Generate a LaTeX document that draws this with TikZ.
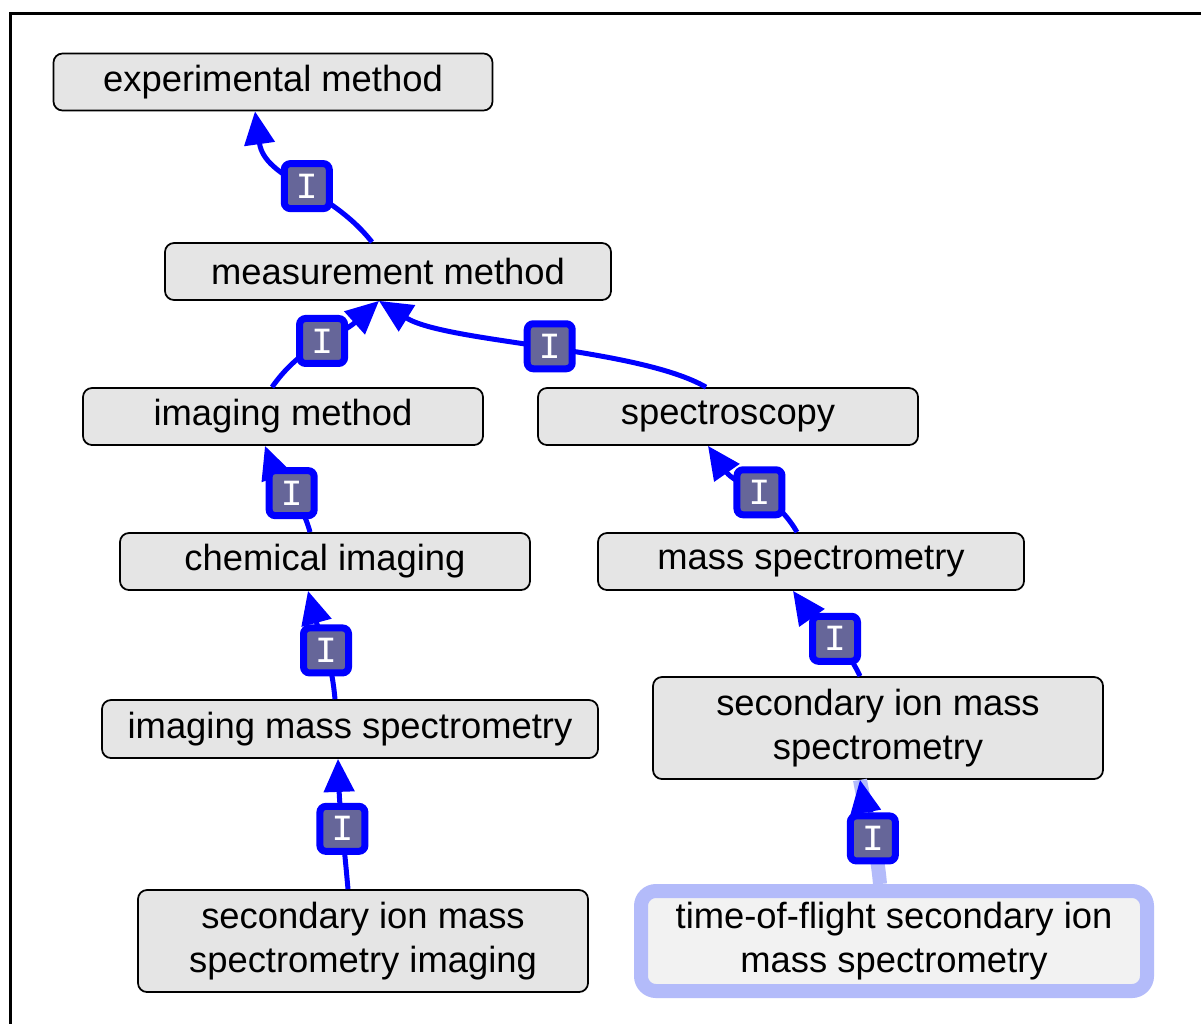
\documentclass[tikz,border=0pt]{standalone}
\usepackage{fontspec}
\setmainfont{Liberation Sans}
\newfontfamily\tagfont{Liberation Mono}
\usetikzlibrary{arrows.meta, positioning}
\definecolor{clsFill}{HTML}{E5E5E5}
\definecolor{selFill}{HTML}{F2F2F2}
\definecolor{selRing}{HTML}{B3BBFA}
\definecolor{tagFill}{HTML}{666699}

\begin{document}
\begin{tikzpicture}[
  cls/.style={draw=black, line width=0.035cm, rounded corners=0.18cm, fill=clsFill, align=center, inner sep=0pt, font=\fontsize{20.7}{25}\selectfont},
  sel/.style={cls, draw=selRing, line width=0.28cm, fill=selFill, rounded corners=0.3cm},
  isa/.style={-{Triangle[length=0.66cm, width=0.6cm]}, line width=0.1cm, blue},
  tag/.style={draw=blue, line width=0.14cm, fill=tagFill, rounded corners=0.12cm, minimum size=0.9cm, inner sep=0pt, pos=0.44, text=white, font=\tagfont\fontsize{21}{21}\selectfont},
  hilite/.style={line width=0.28cm, selRing}
]
\useasboundingbox (0,0) rectangle (24.02,-20.46);
\draw[line width=0.06cm] (0.21,-20.6) |- (24.2,-0.27);

% classes
\node[cls, minimum width=8.78cm, minimum height=1.14cm] (expm) at (5.46,-1.64) {experimental method};
\node[cls, minimum width=8.92cm, minimum height=1.14cm] (meas) at (7.76,-5.43) {measurement method};
\node[cls, minimum width=8.0cm, minimum height=1.14cm] (imgm) at (5.66,-8.33) {imaging method};
\node[cls, minimum width=7.6cm, minimum height=1.14cm] (spec) at (14.56,-8.33) {spectroscopy};
\node[cls, minimum width=8.2cm, minimum height=1.14cm] (chim) at (6.5,-11.23) {chemical imaging};
\node[cls, minimum width=8.52cm, minimum height=1.14cm] (mspec) at (16.22,-11.23) {mass spectrometry};
\node[cls, minimum width=9.92cm, minimum height=1.16cm] (imsp) at (7.0,-14.58) {imaging mass spectrometry};
\node[cls, minimum width=9.0cm, minimum height=2.04cm] (sims) at (17.56,-14.56) {secondary ion mass\\spectrometry};
\node[cls, minimum width=9.0cm, minimum height=2.04cm] (simsi) at (7.26,-18.82) {secondary ion mass\\spectrometry imaging};
\node[sel, minimum width=10.12cm, minimum height=2.0cm] (tof) at (17.88,-18.82) {time-of-flight secondary ion\\mass spectrometry};

% is-a links
\draw[isa] ([xshift=-0.32cm]meas.north) to[out=128,in=-82] node[tag, pos=0.46]{I} ([xshift=-0.36cm]expm.south);
\draw[isa] ([xshift=-0.22cm]imgm.north) to[out=55,in=-138] node[tag, pos=0.5]{I} ([xshift=-0.18cm]meas.south);
\draw[isa] ([xshift=-0.44cm]spec.north) to[out=150,in=-32, looseness=0.6] node[tag, pos=0.48]{I} ([xshift=-0.18cm]meas.south);
\draw[isa] ([xshift=-0.3cm]chim.north) to[out=105,in=-70] node[tag]{I} ([xshift=-0.36cm]imgm.south);
\draw[isa] ([xshift=-0.28cm]mspec.north) to[out=120,in=-55] node[tag]{I} ([xshift=-0.4cm]spec.south);
\draw[isa] ([xshift=-0.3cm]imsp.north) to[out=95,in=-75] node[tag]{I} ([xshift=-0.34cm]chim.south);
\draw[isa] ([xshift=-0.36cm]sims.north) to[out=115,in=-55] node[tag, pos=0.41]{I} ([xshift=-0.36cm]mspec.south);
\draw[isa] ([xshift=-0.3cm]simsi.north) to[out=95,in=-88] node[tag, pos=0.46]{I} ([xshift=-0.24cm]imsp.south);
\draw[hilite] ([xshift=-0.28cm]tof.north) to[out=95,in=-80] node[tag, pos=0.43] (t9) {I} ([xshift=-0.36cm]sims.south);
\draw[isa] (t9) to[out=95,in=-80] ([xshift=-0.36cm]sims.south);
\end{tikzpicture}
\end{document}
